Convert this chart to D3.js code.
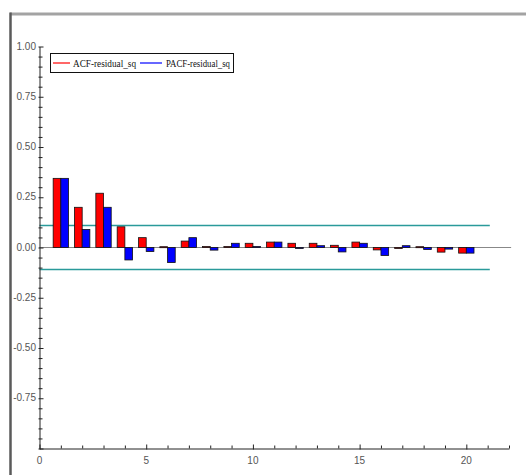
<!DOCTYPE html>
<html><head><meta charset="utf-8">
<script src="https://cdn.jsdelivr.net/npm/d3@7"></script>
<style>
html,body{margin:0;padding:0;background:#fff;}
svg{display:block;}
.tl{font-family:"Liberation Sans Narrow","Liberation Sans",sans-serif;font-size:10px;fill:#555;}
.lg{font-family:"Liberation Serif",serif;font-size:10.5px;fill:#111;}
</style></head>
<body><svg id="c" width="526" height="475"></svg>
<script>
const lags = d3.range(1, 21);
const acf  = [0.344,0.200,0.270,0.103,0.049,0.004,0.032,0.005,0.005,0.021,0.027,0.021,0.021,0.011,0.027,-0.012,-0.002,0.004,-0.023,-0.028];
const pacf = [0.344,0.090,0.200,-0.062,-0.020,-0.075,0.049,-0.013,0.021,0.005,0.027,-0.002,0.009,-0.022,0.021,-0.040,0.009,-0.010,-0.008,-0.028];
const bound = 0.11;
const xTicks = [0,5,10,15,20];
const yTicks = [1.00,0.75,0.50,0.25,0.00,-0.25,-0.50,-0.75];
const seriesNames = ["ACF-residual_sq","PACF-residual_sq"];
const colors = ["#ff0000","#0000ff"];

const svg = d3.select("#c");
// window frame
svg.append("line").attr("x1",10).attr("x2",526).attr("y1",14).attr("y2",14).attr("stroke","#a3a3a3").attr("stroke-width",3);
svg.append("line").attr("x1",10.5).attr("x2",10.5).attr("y1",12.5).attr("y2",475).attr("stroke","#5a5a5a").attr("stroke-width",2.5);

const x = d3.scaleLinear().domain([0,22]).range([39.5,509]);
const y = d3.scaleLinear().domain([-1,1]).range([448.5,46.5]);

// confidence bounds
[bound,-bound].forEach(b=>{
  svg.append("line").attr("x1",x(0)).attr("x2",x(21.1)).attr("y1",y(b)).attr("y2",y(b))
    .attr("stroke","#2a9a9a").attr("stroke-width",1.5);
});
// zero line
svg.append("line").attr("x1",x(0)).attr("x2",x(22.1)).attr("y1",y(0)).attr("y2",y(0)).attr("stroke","#888").attr("stroke-width",1);

const bw = 0.36;
[acf,pacf].forEach((vals,si)=>{
  svg.append("g").selectAll("rect").data(vals).enter().append("rect")
    .attr("x",(d,i)=>x(lags[i] + (si===0 ? -bw : 0)))
    .attr("width",x(bw)-x(0))
    .attr("y",d=>y(Math.max(0,d)))
    .attr("height",d=>Math.max(1,Math.abs(y(d)-y(0))))
    .attr("fill",colors[si]).attr("stroke","#111").attr("stroke-width",0.8);
});

// axes
const ax = svg.append("g").attr("transform",`translate(0,${y(-1)})`)
  .call(d3.axisBottom(x).tickValues(d3.range(0,23)).tickSize(0).tickFormat(""));
ax.select(".domain").attr("stroke","#222");
ax.selectAll(".tick line").attr("y1",d=>xTicks.includes(d)?-4:-3).attr("y2",d=>xTicks.includes(d)?1:0).attr("stroke","#222");
svg.append("g").selectAll("text").data(xTicks).enter().append("text").attr("class","tl")
  .attr("x",d=>x(d)).attr("y",464).attr("text-anchor","middle").text(d=>d);

const ay = svg.append("g").attr("transform",`translate(${x(0)},0)`)
  .call(d3.axisLeft(y).tickValues(d3.range(-20,21).map(v=>v/20)).tickSize(0).tickFormat(""));
ay.select(".domain").attr("stroke","#222");
ay.selectAll(".tick line").attr("x1",-1).attr("x2",d=>Math.abs(Math.round(d*100)%25)===0?4:3).attr("stroke","#222");
svg.append("g").selectAll("text").data(yTicks).enter().append("text").attr("class","tl")
  .attr("x",36).attr("y",d=>y(d)+3).attr("text-anchor","end").text(d=>d.toFixed(2));

// legend
const lg = svg.append("g");
lg.append("rect").attr("x",50.5).attr("y",53.5).attr("width",183).attr("height",19).attr("fill","#fff").attr("stroke","#111");
lg.append("line").attr("x1",53).attr("x2",70).attr("y1",63).attr("y2",63).attr("stroke",colors[0]).attr("stroke-width",1.2);
lg.append("text").attr("class","lg").attr("x",73).attr("y",67).attr("textLength",63).attr("lengthAdjust","spacingAndGlyphs").text(seriesNames[0]);
lg.append("line").attr("x1",140).attr("x2",162).attr("y1",63).attr("y2",63).attr("stroke",colors[1]).attr("stroke-width",1.2);
lg.append("text").attr("class","lg").attr("x",166).attr("y",67).attr("textLength",64).attr("lengthAdjust","spacingAndGlyphs").text(seriesNames[1]);
</script></body></html>
